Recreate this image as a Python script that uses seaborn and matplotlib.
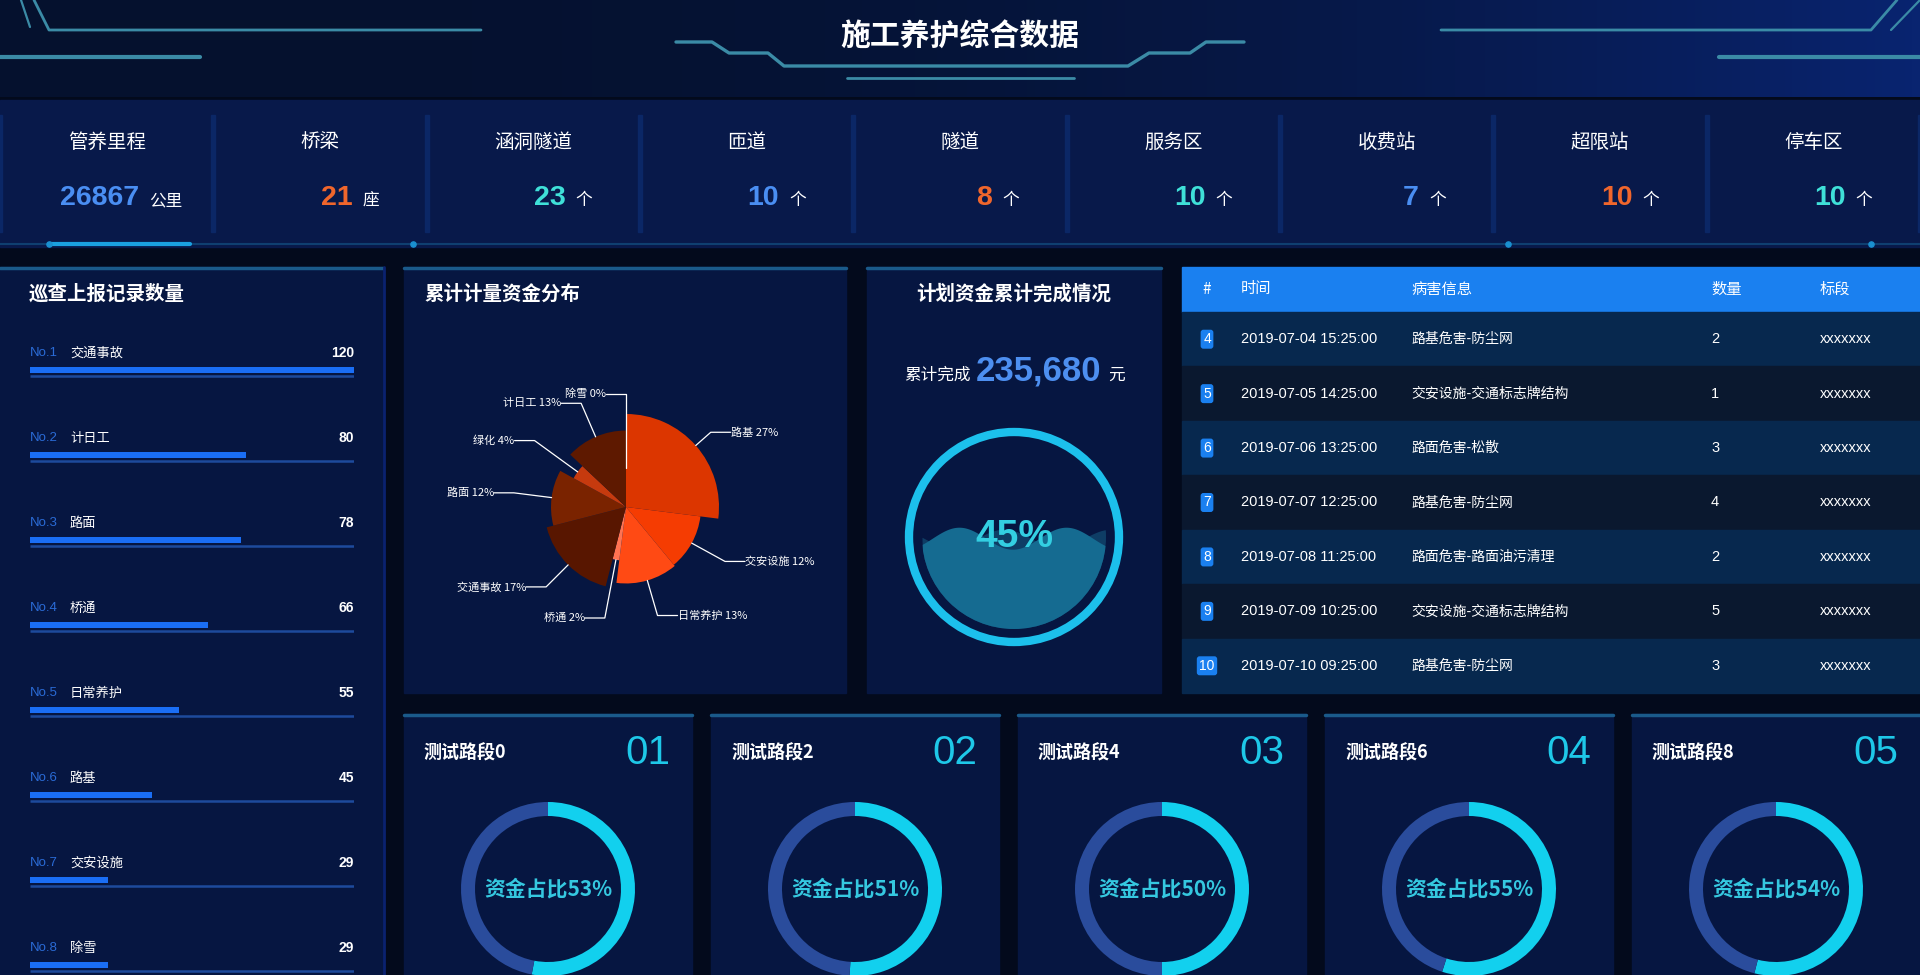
import numpy as np
import pandas as pd
import matplotlib
matplotlib.use("Agg")
import matplotlib.pyplot as plt
from matplotlib.patches import Rectangle, Circle
from matplotlib import font_manager
import seaborn as sns

W, H = 1920, 975

# ---- data ----
kpi_names = ["管养里程", "桥梁", "涵洞隧道", "匝道", "隧道", "服务区", "收费站", "超限站", "停车区"]
kpi_values = [26867, 21, 23, 10, 8, 10, 7, 10, 10]
kpi_units = ["公里", "座", "个", "个", "个", "个", "个", "个", "个"]

patrol_names = ["交通事故", "计日工", "路面", "桥通", "日常养护", "路基", "交安设施", "除雪"]
patrol_counts = [120, 80, 78, 66, 55, 45, 29, 29]

fund_names = ["路基", "交安设施", "日常养护", "桥通", "交通事故", "路面", "绿化", "计日工", "除雪"]
fund_pct = [27, 12, 13, 2, 17, 12, 4, 13, 0]

plan_total = 235680
plan_ratio = 0.45

table_no = [4, 5, 6, 7, 8, 9, 10]
table_time = ["2019-07-04 15:25:00", "2019-07-05 14:25:00", "2019-07-06 13:25:00",
              "2019-07-07 12:25:00", "2019-07-08 11:25:00", "2019-07-09 10:25:00",
              "2019-07-10 09:25:00"]
table_info = ["路基危害-防尘网", "交安设施-交通标志牌结构", "路面危害-松散", "路基危害-防尘网",
              "路面危害-路面油污清理", "交安设施-交通标志牌结构", "路基危害-防尘网"]
table_count = [2, 1, 3, 4, 2, 5, 3]
table_section = ["xxxxxxx"] * 7

road_names = ["测试路段0", "测试路段2", "测试路段4", "测试路段6", "测试路段8"]
road_ratio = [53, 51, 50, 55, 54]

# ---- styles ----
sns.set_theme(style="dark")
plt.rcParams["font.family"] = ["Noto Sans CJK SC", "DejaVu Sans"]
plt.rcParams["axes.unicode_minus"] = False

installed = {f.name for f in font_manager.fontManager.ttflist}
NUM = "Liberation Sans" if "Liberation Sans" in installed else "DejaVu Sans"
NARROW = "Liberation Sans Narrow" if "Liberation Sans Narrow" in installed else NUM

LINE = "#3b8ba6"
PANEL = "#061641"
BORDER = "#1a5a8a"
kpi_colors = ["#4a8ef2", "#f0662c", "#3fe0d8"]
fund_colors = ["#dc3600", "#f53c02", "#ff4a14", "#ff7352", "#581600",
               "#7a2300", "#c63a0e", "#5e1900", "#b03000"]

fig = plt.figure(figsize=(W / 100, H / 100), dpi=100, facecolor="#030a1c")
bg = fig.add_axes([0, 0, 1, 1])
bg.axis("off")


def px_axes(x0, y0, x1, y1, **kw):
    ax = fig.add_axes([x0 / W, 1 - y1 / H, (x1 - x0) / W, (y1 - y0) / H], **kw)
    ax.patch.set_alpha(0)
    return ax


# header band
g = np.linspace(0, 1, 256)[:, None]
c0 = np.array([5, 17, 46]) / 255
c1 = np.array([9, 36, 112]) / 255
band = (c0 * (1 - g ** 2.5) + c1 * g ** 2.5)[None, :, :]
bg.imshow(band, extent=(0, W, 97, 0), aspect="auto", zorder=0)
bg.set_xlim(0, W)
bg.set_ylim(H, 0)

# header decoration lines
bg.plot([21, 30], [0, 27], color=LINE, lw=1.6)
bg.plot([34, 49, 481], [0, 30, 30], color=LINE, lw=2)
bg.plot([0, 200], [57, 57], color=LINE, lw=3)
bg.plot([676, 712, 729, 768, 784, 1128, 1149, 1190, 1206, 1244],
        [42, 42, 53, 53, 66, 66, 53, 53, 42, 42], color=LINE, lw=2.4)
bg.plot([847, 1074], [78, 78], color=LINE, lw=2)
bg.plot([1441, 1871, 1897], [30, 30, 0], color=LINE, lw=2)
bg.plot([1891, 1920], [30, 0], color=LINE, lw=1.6)
bg.plot([1719, 1920], [57, 57], color=LINE, lw=3)
bg.text(960, 37, "施工养护综合数据", fontsize=21.5, weight="bold", color="white",
        ha="center", va="center")

# KPI strip
bg.add_patch(Rectangle((0, 100), W, 147, color="#08194a", zorder=1))
col_w = W / 9
for i in range(10):
    bg.add_patch(Rectangle((i * col_w - 2, 115), 4, 117, color="#0b2766", zorder=2))
bg.plot([0, W], [244, 244], color="#0f3f70", lw=1.5, zorder=3)
bg.plot([49, 190], [244, 244], color="#1aa0e0", lw=3, zorder=3)
bg.scatter([49, 413, 1508, 1871], [244] * 4, s=14, color="#1a90d0", zorder=4)
for i, (name, val, unit) in enumerate(zip(kpi_names, kpi_values, kpi_units)):
    x0 = i * col_w
    bg.text(x0 + col_w / 2, 142, name, fontsize=14, color="white", ha="center", va="center", zorder=5)
    bg.text(x0 + 139, 205, str(val), fontsize=20.5, weight="bold", color=kpi_colors[i % 3],
            family=[NUM, "DejaVu Sans"], ha="right", va="baseline", zorder=5)
    bg.text(x0 + 149, 205, unit, fontsize=12, color="white", ha="left", va="baseline", zorder=5)

# panels
panels = [(0, 267, 383, 975), (404, 267, 846, 693), (867, 267, 1161, 693)]
cards_x = [404 + k * 307 for k in range(5)]
panels += [(x, 714, x + 288, 975) for x in cards_x]
for x0, y0, x1, y1 in panels:
    bg.add_patch(Rectangle((x0, y0), x1 - x0, y1 - y0, color=PANEL, zorder=1))
    bg.plot([x0, x1], [y0 + 1, y0 + 1], color=BORDER, lw=2.5, zorder=2)
bg.plot([384, 384], [267, 975], color="#0a2270", lw=2, zorder=2)

# ---- left: patrol records (seaborn bars) ----
bg.text(29, 294, "巡查上报记录数量", fontsize=14, weight="bold", color="white", va="center", zorder=5)
ax = px_axes(30, 327.5, 354, 1007.5)
df_patrol = pd.DataFrame({"name": patrol_names, "count": patrol_counts})
sns.barplot(data=df_patrol, x="count", y="name", orient="h", color="#1a6ef5",
            width=0.07, errorbar=None, saturation=1, linewidth=0, edgecolor="none", ax=ax)
ax.set_xlim(0, max(patrol_counts))
ax.set_ylim(len(patrol_names) - 0.5, -0.5)
ax.hlines(np.arange(len(patrol_names)) + 0.075, 0, max(patrol_counts), color="#1d4a9c", lw=1.8)
for i, (name, cnt) in enumerate(zip(patrol_names, patrol_counts)):
    ax.text(0, i - 0.2, f"No.{i + 1}", color="#2a6bd6", fontsize=9.5, va="center", family=[NUM, "DejaVu Sans"])
    ax.annotate(name, (0, i - 0.2), xytext=(40, 0), textcoords="offset pixels",
                color="white", fontsize=9.5, va="center")
    ax.text(1, i - 0.2, str(cnt), transform=ax.get_yaxis_transform(), color="white",
            fontsize=10, weight="bold", ha="right", va="center", family=[NUM, "DejaVu Sans"])
ax.set_xlabel("")
ax.set_ylabel("")
ax.set_xticks([])
ax.set_yticks([])
for s in ax.spines.values():
    s.set_visible(False)

# ---- rose pie ----
bg.text(424, 294, "累计计量资金分布", fontsize=14, weight="bold", color="white", va="center", zorder=5)
pax = px_axes(626 - 130, 507 - 130, 626 + 130, 507 + 130, projection="polar")
pax.set_theta_zero_location("N")
pax.set_theta_direction(-1)
pct = np.array(fund_pct, dtype=float)
ang = 2 * np.pi * pct / pct.sum()
start = np.concatenate([[0], np.cumsum(ang)[:-1]])
r_min, r_max = 39, 93
radius = r_min + (r_max - r_min) * np.sqrt(pct / pct.max())
pax.bar(start, radius, width=ang, align="edge", color=fund_colors, linewidth=0)
elbow = 113
for name, p, st, a, r in zip(fund_names, fund_pct, start, ang, radius):
    th = st + a / 2
    ex, ey = elbow * np.sin(th), elbow * np.cos(th)
    side = 1 if np.sin(th) > 1e-9 else -1
    tx = ex + 20 * side
    th2 = np.arctan2(tx, ey)
    r2 = np.hypot(tx, ey)
    pax.plot([th, th, th2], [r, elbow, r2], color="white", lw=0.9, clip_on=False)
    pax.text(th2, r2, f"{name} {p}%", color="white", fontsize=8,
             ha="left" if side > 0 else "right", va="center", clip_on=False)
pax.set_ylim(0, 130)
pax.axis("off")

# ---- plan gauge ----
bg.text(1014, 294, "计划资金累计完成情况", fontsize=14, weight="bold", color="white",
        ha="center", va="center", zorder=5)
bg.text(971, 380, "累计完成", fontsize=12, color="white", ha="right", va="baseline", zorder=5)
bg.text(976, 380, f"{plan_total:,}", fontsize=25, weight="bold", color="#4d8ff0",
        family=[NUM, "DejaVu Sans"], ha="left", va="baseline", zorder=5)
bg.text(1108, 380, "元", fontsize=12, color="white", ha="left", va="baseline", zorder=5)

gax = px_axes(1014 - 115, 537 - 115, 1014 + 115, 537 + 115)
gax.set_xlim(-115, 115)
gax.set_ylim(-115, 115)
gax.axis("off")
gax.add_patch(Circle((0, 0), 105, fill=False, lw=6, color="#1cc0ec"))
xs = np.linspace(-92, 92, 300)
level = -92 + 184 * plan_ratio + 8
back = level + 9 * np.cos(2 * np.pi * (xs + 10) / 107)
front = level + 11 * np.cos(2 * np.pi * (xs + 55) / 107)
clip = Circle((0, 0), 92, transform=gax.transData)
f1 = gax.fill_between(xs, -92, back, color="#1f86aa", alpha=0.35, linewidth=0)
f2 = gax.fill_between(xs, -92, front, color="#156b91", linewidth=0)
f1.set_clip_path(clip)
f2.set_clip_path(clip)
gax.text(0, 0, f"{plan_ratio:.0%}", fontsize=28, weight="bold", color="#33cfe2",
         family=[NUM, "DejaVu Sans"], ha="center", va="center")

# ---- table ----
tx0 = 1182
bg.add_patch(Rectangle((tx0, 267), W - tx0, 45, color="#1a80f0", zorder=2))
cols_x = [1207, 1241, 1411, 1711, 1820]
headers = ["#", "时间", "病害信息", "数量", "标段"]
for j, (hx, hname) in enumerate(zip(cols_x, headers)):
    bg.text(hx, 289, hname, fontsize=11, color="white", ha="center" if j == 0 else "left",
            va="center", zorder=5)
row_h = (693 - 312) / len(table_no)
for i, (no, tm, info, cnt, sec) in enumerate(zip(table_no, table_time, table_info,
                                                  table_count, table_section)):
    y0 = 312 + i * row_h
    yc = y0 + row_h / 2
    bg.add_patch(Rectangle((tx0, y0), W - tx0, row_h,
                           color="#07284e" if i % 2 == 0 else "#0a182f", zorder=2))
    bg.text(cols_x[0], yc, str(no), fontsize=10, color="white", ha="center", va="center",
            family=[NARROW, "DejaVu Sans"], zorder=5,
            bbox=dict(boxstyle="round,pad=0.18,rounding_size=0.2", fc="#1a80f0", ec="none"))
    bg.text(cols_x[1], yc, tm, fontsize=10.5, color="white", va="center",
            family=[NARROW, "DejaVu Sans"], zorder=5)
    bg.text(cols_x[2], yc, info, fontsize=10, color="white", va="center", zorder=5)
    bg.text(cols_x[3], yc, str(cnt), fontsize=10.5, color="white", va="center",
            family=[NARROW, "DejaVu Sans"], zorder=5)
    bg.text(cols_x[4], yc, sec, fontsize=10.5, color="white", va="center",
            family=[NARROW, "DejaVu Sans"], zorder=5)

# ---- road section cards ----
for k, (x0, name, ratio) in enumerate(zip(cards_x, road_names, road_ratio)):
    bg.text(x0 + 20, 753, name, fontsize=13, weight="bold", color="white", va="center", zorder=5)
    bg.text(x0 + 266, 753, f"{k + 1:02d}", fontsize=29, color="#1ec8e8",
            family=[NARROW, "DejaVu Sans"], ha="right", va="center", zorder=5)
    cx, cy, rr = x0 + 144, 889, 87
    dax = px_axes(cx - rr, cy - rr, cx + rr, cy + rr)
    dax.pie([ratio, 100 - ratio], startangle=90, counterclock=False,
            colors=["#12d0ee", "#2a4c9c"], wedgeprops=dict(width=14 / rr, linewidth=0))
    dax.set_xlim(-1, 1)
    dax.set_ylim(-1, 1)
    dax.text(0, 0, f"资金占比{ratio}%", fontsize=15, weight="bold", color="#35c8e0",
             ha="center", va="center")

fig.savefig("out.png", dpi=100, facecolor=fig.get_facecolor())
